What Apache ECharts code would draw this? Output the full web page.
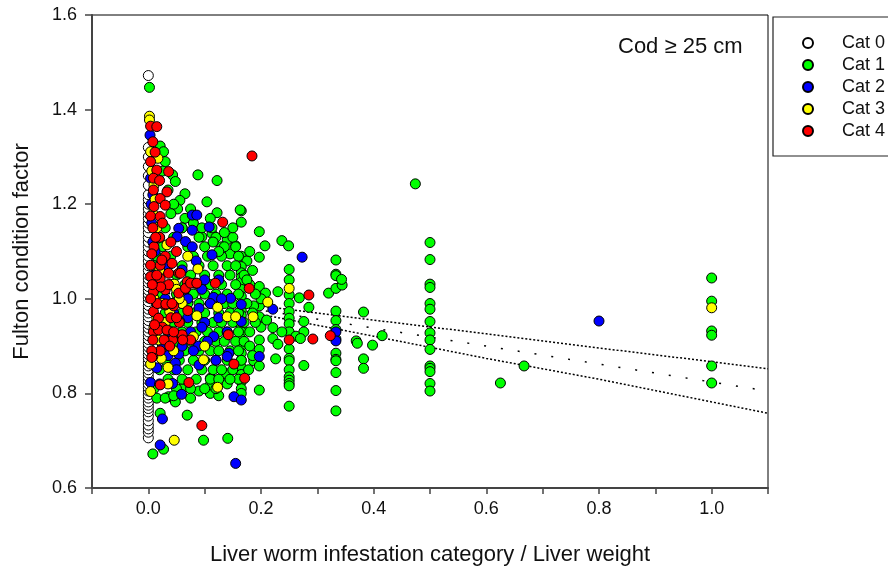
<!DOCTYPE html>
<html>
<head>
<meta charset="utf-8">
<script src="https://cdn.jsdelivr.net/npm/echarts@6/dist/echarts.min.js"></script>
<style>html,body{margin:0;padding:0;background:#fff}#c{width:888px;height:573px}</style>
</head>
<body>
<div id="c"></div>
<script>
// ---- data (x = infestation category / liver weight, y = Fulton condition factor) ----
const categories = ['Cat 0', 'Cat 1', 'Cat 2', 'Cat 3', 'Cat 4'];
const xTicks = ['0.0', '0.2', '0.4', '0.6', '0.8', '1.0'];
const yTicks = ['0.6', '0.8', '1.0', '1.2', '1.4', '1.6'];

const cat0 = [[0,0.706],[0,0.718],[0,0.725],[0,0.733],[0,0.742],[0,0.752],[0,0.761],[0,0.768],[0,0.775],[0,0.782],[0,0.790],[0,0.797],[0,0.805],[0,0.812],[0,0.820],[0,0.828],[0,0.835],[0,0.843],[0,0.850],[0,0.858],[0,0.866],[0,0.874],[0,0.882],[0,0.890],[0,0.898],[0,0.906],[0,0.914],[0,0.922],[0,0.930],[0,0.938],[0,0.946],[0,0.954],[0,0.962],[0,0.970],[0,0.978],[0,0.986],[0,0.994],[0,1.002],[0,1.010],[0,1.018],[0,1.026],[0,1.034],[0,1.042],[0,1.050],[0,1.060],[0,1.070],[0,1.080],[0,1.090],[0,1.100],[0,1.110],[0,1.120],[0,1.130],[0,1.140],[0,1.150],[0,1.160],[0,1.170],[0,1.180],[0,1.190],[0,1.200],[0,1.210],[0,1.220],[0,1.240],[0,1.260],[0,1.280],[0,1.300],[0,1.320],[0,1.472]];

const cat1 = [
[1.0,1.044],[1.0,0.995],[1.0,0.932],[1.0,0.923],[1.0,0.858],[1.0,0.822],
[0.667,0.858],[0.625,0.822],[0.474,1.243],
[0.5,1.119],[0.5,1.083],[0.5,1.031],[0.5,1.024],[0.5,0.990],[0.5,0.978],[0.5,0.952],[0.5,0.928],[0.5,0.913],[0.5,0.893],[0.5,0.858],[0.5,0.853],[0.5,0.846],[0.5,0.821],[0.5,0.805],
[0.382,0.972],[0.369,0.911],[0.371,0.906],[0.398,0.902],[0.415,0.922],[0.382,0.873],[0.382,0.853],
[0.333,1.082],[0.333,1.052],[0.333,1.049],[0.333,0.974],[0.333,0.954],[0.333,0.935],[0.333,0.915],[0.333,0.885],[0.333,0.872],[0.333,0.869],[0.333,0.844],[0.333,0.806],[0.333,0.763],[0.320,1.012],[0.333,1.022],[0.344,1.029],[0.343,1.041],
[0.25,1.062],[0.25,1.040],[0.25,1.008],[0.25,0.990],[0.25,0.973],[0.25,0.959],[0.25,0.947],[0.25,0.930],[0.25,0.894],[0.25,0.874],[0.25,0.869],[0.25,0.850],[0.25,0.835],[0.25,0.828],[0.25,0.821],[0.25,0.816],[0.25,0.773],
[0.165,1.186],[0.165,1.162],[0.197,1.142],[0.207,1.112],[0.237,1.123],[0.249,1.112],[0.197,1.088],[0.165,1.090],[0.175,1.080],[0.197,1.026],[0.208,1.012],[0.230,1.015],[0.268,1.002],[0.285,0.982],[0.197,0.985],[0.197,0.962],[0.276,0.952],[0.276,0.930],[0.221,0.939],[0.221,0.916],[0.237,0.930],[0.230,0.904],[0.262,0.921],[0.270,0.916],[0.197,0.913],[0.197,0.893],[0.226,0.873],[0.276,0.859],[0.187,0.869],[0.197,0.858],[0.197,0.807],[0.200,0.940],[0.200,1.000],[0.187,0.985],[0.210,0.955],
[0.165,1.068],[0.165,1.055],[0.165,1.045],[0.165,1.035],[0.165,1.020],[0.165,1.005],[0.165,0.975],[0.165,0.965],[0.165,0.940],[0.165,0.930],[0.165,0.915],[0.165,0.900],[0.165,0.885],[0.165,0.870],[0.165,0.855],[0.165,0.840],[0.165,0.825],[0.165,0.810],[0.165,0.800],
[0.002,1.447],[0.021,1.323],[0.027,1.311],[0.043,1.262],[0.048,1.248],[0.088,1.262],[0.122,1.250],[0.065,1.222],[0.104,1.205],[0.056,1.208],[0.052,1.190],[0.065,1.170],[0.122,1.182],[0.163,1.188],[0.095,1.131],[0.113,1.138],[0.155,1.112],[0.030,1.290],[0.035,1.230],[0.075,1.190],[0.045,1.200],[0.080,1.160],[0.140,1.125],[0.025,1.270],[0.040,1.180],[0.060,1.150],[0.130,1.110],[0.145,1.095],
[0.021,0.758],[0.069,0.754],[0.098,0.701],[0.141,0.705],[0.027,0.682],[0.008,0.672],[0.036,0.793],[0.048,0.782],[0.110,0.800],[0.110,0.818],[0.110,0.832],[0.137,0.842],[0.140,0.820],[0.160,0.830],[0.090,0.805],[0.125,0.795],[0.060,0.810],[0.015,0.790],
[0.030,1.150],[0.060,1.150],[0.095,1.150],[0.113,1.150],
[0.020,1.130],[0.045,1.130],[0.090,1.130],[0.120,1.130],[0.150,1.130],
[0.025,1.110],[0.070,1.110],[0.100,1.110],[0.135,1.110],[0.155,1.110],
[0.015,1.090],[0.040,1.090],[0.080,1.090],[0.105,1.090],[0.130,1.090],[0.160,1.090],
[0.010,1.070],[0.035,1.070],[0.060,1.070],[0.090,1.070],[0.115,1.070],[0.140,1.070],[0.155,1.070],
[0.020,1.050],[0.050,1.050],[0.075,1.050],[0.100,1.050],[0.125,1.050],[0.145,1.050],[0.170,1.050],
[0.010,1.030],[0.040,1.030],[0.065,1.030],[0.090,1.030],[0.110,1.030],[0.130,1.030],[0.155,1.030],[0.180,1.030],
[0.025,1.010],[0.050,1.010],[0.080,1.010],[0.100,1.010],[0.120,1.010],[0.140,1.010],[0.160,1.010],[0.190,1.010],
[0.015,0.990],[0.040,0.990],[0.070,0.990],[0.090,0.990],[0.110,0.990],[0.135,0.990],[0.150,0.990],[0.175,0.990],
[0.030,0.970],[0.060,0.970],[0.080,0.970],[0.100,0.970],[0.125,0.970],[0.145,0.970],[0.160,0.970],[0.185,0.970],
[0.020,0.950],[0.045,0.950],[0.070,0.950],[0.095,0.950],[0.115,0.950],[0.130,0.950],[0.150,0.950],[0.170,0.950],
[0.035,0.930],[0.060,0.930],[0.085,0.930],[0.105,0.930],[0.125,0.930],[0.140,0.930],[0.160,0.930],[0.180,0.930],
[0.025,0.910],[0.050,0.910],[0.075,0.910],[0.100,0.910],[0.120,0.910],[0.135,0.910],[0.155,0.910],[0.170,0.910],
[0.040,0.890],[0.065,0.890],[0.090,0.890],[0.110,0.890],[0.125,0.890],[0.145,0.890],[0.160,0.890],
[0.030,0.870],[0.055,0.870],[0.080,0.870],[0.100,0.870],[0.120,0.870],[0.140,0.870],[0.165,0.870],
[0.020,0.850],[0.045,0.850],[0.070,0.850],[0.095,0.850],[0.115,0.850],[0.130,0.850],[0.150,0.850],
[0.035,0.830],[0.060,0.830],[0.085,0.830],[0.110,0.830],[0.125,0.830],[0.145,0.830],
[0.010,0.810],[0.050,0.810],[0.075,0.810],[0.100,0.810],[0.120,0.810],
[0.030,0.790],[0.045,0.795],[0.075,0.790],
[0.180,1.100],[0.185,1.060],[0.175,1.040],[0.190,0.950],[0.180,0.900],[0.185,0.880],[0.178,0.850],[0.150,1.150],[0.135,1.140],[0.110,1.170],[0.125,1.100],[0.115,1.120]
];

const cat2 = [[0.003,1.346],[0.005,1.310],[0.004,1.255],[0.008,1.220],[0.006,1.160],[0.012,1.100],[0.010,1.050],[0.015,0.990],[0.012,0.940],[0.015,0.854],[0.004,0.823],[0.025,0.746],[0.021,0.691],[0.043,0.821],[0.059,0.798],[0.054,0.883],[0.048,0.864],[0.089,0.900],[0.143,0.885],[0.116,0.920],[0.116,1.003],[0.165,0.988],[0.146,1.001],[0.152,0.793],[0.165,0.786],[0.155,0.652],[0.078,1.177],[0.086,1.177],[0.054,1.149],[0.078,1.145],[0.108,1.152],[0.051,1.131],[0.066,1.121],[0.078,1.110],[0.113,1.093],[0.060,1.061],[0.165,0.952],[0.221,0.978],[0.273,1.088],[0.197,0.878],[0.333,0.930],[0.333,0.911],[0.800,0.953],[0.030,1.000],[0.045,0.970],[0.070,0.960],[0.090,0.980],[0.100,1.040],[0.065,1.020],[0.040,0.930],[0.075,0.930],[0.100,0.950],[0.125,0.960],[0.060,0.900],[0.090,0.860],[0.120,0.870],[0.035,1.070],[0.085,1.080],[0.020,0.820],[0.110,0.990],[0.130,1.000],[0.140,0.930],[0.050,0.850],[0.025,0.900],[0.056,0.952],[0.140,0.878],[0.005,1.200],[0.008,1.120],[0.070,1.000],[0.095,1.020],[0.080,0.890],[0.105,0.910],[0.035,0.880],[0.015,1.030],[0.125,1.040],[0.095,0.940]];

const cat3 = [[0.002,1.386],[0.002,1.378],[0.004,1.311],[0.017,1.297],[0.033,1.114],[0.088,1.063],[0.046,1.031],[0.050,1.020],[0.046,0.701],[0.004,0.804],[0.123,0.813],[0.098,0.871],[0.140,0.962],[0.155,0.962],[0.123,0.982],[0.086,0.964],[0.004,0.862],[0.023,0.874],[0.035,0.855],[0.212,0.993],[0.186,0.962],[0.250,1.022],[1.000,0.981],[0.010,1.240],[0.008,1.180],[0.015,1.150],[0.020,1.060],[0.010,1.000],[0.030,0.950],[0.060,0.990],[0.060,0.915],[0.080,0.920],[0.100,0.900],[0.045,0.890],[0.010,0.940],[0.070,1.090],[0.055,1.000],[0.035,0.820],[0.018,0.913],[0.038,0.973],[0.006,1.270],[0.012,1.210],[0.025,0.990],[0.015,0.960]];

const cat4 = [[0.004,1.365],[0.015,1.364],[0.008,1.332],[0.004,1.290],[0.015,1.272],[0.036,1.269],[0.009,1.255],[0.009,1.230],[0.033,1.226],[0.021,1.212],[0.010,1.195],[0.030,1.198],[0.004,1.175],[0.021,1.174],[0.132,1.162],[0.184,1.302],[0.054,1.054],[0.083,1.033],[0.119,1.033],[0.069,1.036],[0.004,1.071],[0.021,1.071],[0.004,1.047],[0.021,1.043],[0.036,1.054],[0.009,1.015],[0.030,1.019],[0.054,1.012],[0.066,1.022],[0.009,0.973],[0.030,0.987],[0.018,0.959],[0.009,0.930],[0.008,0.913],[0.043,0.913],[0.060,0.924],[0.075,0.913],[0.008,0.878],[0.021,0.890],[0.021,0.818],[0.072,0.823],[0.095,0.732],[0.152,0.862],[0.142,0.924],[0.171,0.832],[0.179,1.022],[0.285,1.008],[0.292,0.915],[0.250,0.913],[0.323,0.922],[0.008,1.150],[0.020,1.130],[0.040,1.120],[0.010,1.110],[0.030,1.090],[0.050,1.100],[0.013,1.130],[0.040,0.960],[0.055,0.950],[0.025,0.940],[0.045,0.985],[0.070,0.975],[0.006,1.095],[0.024,1.082],[0.042,1.075],[0.057,1.054],[0.075,1.033],[0.086,1.033],[0.036,1.030],[0.022,1.025],[0.007,1.030],[0.016,0.990],[0.031,0.989],[0.042,0.990],[0.018,0.934],[0.011,0.945],[0.033,0.934],[0.045,0.930],[0.006,0.890],[0.028,0.913],[0.061,0.913],[0.006,0.876],[0.012,1.310],[0.020,1.250],[0.025,1.160],[0.015,1.050],[0.004,1.000],[0.050,0.960],[0.038,0.900]];

// regression line and 95% confidence band
const regX     = [0.0, 0.2, 0.4, 0.6, 0.8, 1.0, 1.1];
const regMid   = [1.014, 0.976, 0.938, 0.900, 0.862, 0.824, 0.805];
const regUpper = [1.017, 0.985, 0.955, 0.926, 0.896, 0.867, 0.852];
const regLower = [1.011, 0.967, 0.921, 0.874, 0.830, 0.782, 0.758];

const seriesData = [cat0, cat1, cat2, cat3, cat4];
const colors = ['#ffffff', '#00ff00', '#0000ff', '#ffff00', '#ff0000'];

// ---- chart ----
const FONT = 'Arial, "Liberation Sans", sans-serif';
const chart = echarts.init(document.getElementById('c'), null, {renderer: 'canvas'});
const zip = (xs, ys) => xs.map((x, i) => [x, ys[i]]);

const lineSeries = [
  {data: zip(regX, regUpper), dash: [2, 2]},
  {data: zip(regX, regLower), dash: [2, 2]},
  {data: zip(regX, regMid), dash: [2, 15]}
].map(s => ({
  type: 'line', data: s.data, showSymbol: false, symbol: 'none', silent: true,
  lineStyle: {color: '#000', width: 1.5, type: s.dash}, z: 1
}));

const scatterSeries = categories.map((name, i) => ({
  name, type: 'scatter', data: seriesData[i], symbol: 'circle', symbolSize: 10,
  itemStyle: {color: colors[i], borderColor: '#000', borderWidth: 1, opacity: 1},
  z: 2 + i, large: false
}));

chart.setOption({
  animation: false,
  backgroundColor: '#fff',
  grid: {left: 92, right: 120, top: 15, bottom: 85, show: true, borderColor: '#000', borderWidth: 1, backgroundColor: 'transparent'},
  xAxis: {
    type: 'value', min: -0.1, max: 1.1, interval: 0.1,
    name: 'Liver worm infestation category / Liver weight', nameLocation: 'middle', nameGap: 56,
    nameTextStyle: {fontFamily: FONT, fontSize: 22, color: '#111'},
    axisLine: {show: true, onZero: false, lineStyle: {color: '#444', width: 2}},
    axisTick: {show: true, inside: false, length: 6, lineStyle: {color: '#444', width: 1.5}},
    axisLabel: {
      fontFamily: FONT, fontSize: 18, color: '#111', margin: 12,
      formatter: v => { const k = Math.round(v * 10); const idx = k / 2; return (k >= 0 && k % 2 === 0 && xTicks[idx] !== undefined) ? xTicks[idx] : ''; }
    },
    splitLine: {show: false}
  },
  yAxis: {
    type: 'value', min: 0.6, max: 1.6, interval: 0.2,
    name: 'Fulton condition factor', nameLocation: 'middle', nameGap: 59, nameRotate: 90,
    nameTextStyle: {fontFamily: FONT, fontSize: 22, color: '#111'},
    axisLine: {show: true, onZero: false, lineStyle: {color: '#444', width: 2}},
    axisTick: {show: true, inside: false, length: 7, lineStyle: {color: '#444', width: 1.5}},
    axisLabel: {
      fontFamily: FONT, fontSize: 18, color: '#111', margin: 15,
      formatter: v => { const idx = Math.round((v - 0.6) / 0.2); return yTicks[idx] || ''; }
    },
    splitLine: {show: false}
  },
  legend: {
    data: categories, orient: 'vertical', left: 773, top: 17,
    padding: [17, 20, 16, 29], itemGap: 4, itemWidth: 10, itemHeight: 10,
    borderColor: '#222', borderWidth: 1.2, backgroundColor: '#fff',
    icon: 'circle', selectedMode: false,
    textStyle: {fontFamily: FONT, fontSize: 18, color: '#111', padding: [0, 0, 0, 24], lineHeight: 18}
  },
  graphic: [{
    type: 'text', left: 618, top: 36,
    style: {text: 'Cod \u2265 25 cm', font: '22px ' + FONT, fill: '#111'}
  }],
  series: lineSeries.concat(scatterSeries)
});
</script>
</body>
</html>
